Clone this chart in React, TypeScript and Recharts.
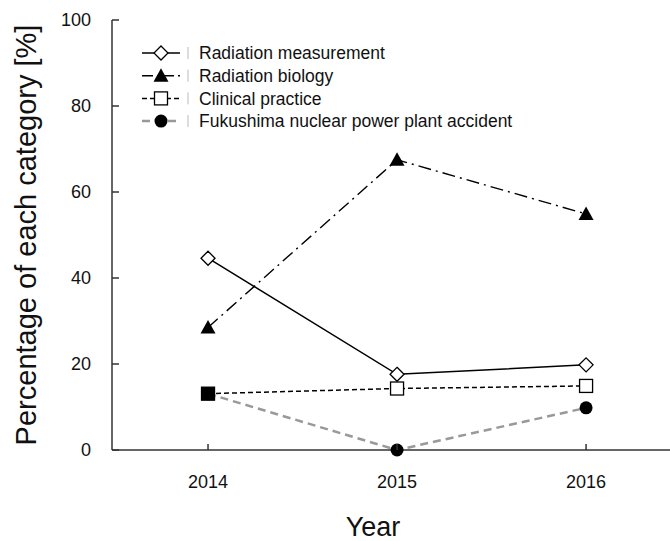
import React from "react";
import { LineChart, Line, XAxis, YAxis, Legend } from "recharts";

const years = [2014, 2015, 2016];
const radiationMeasurement = [44.6, 17.6, 19.8];
const radiationBiology = [28.5, 67.5, 54.9];
const clinicalPractice = [13.1, 14.3, 14.9];
const fukushimaAccident = [13.1, 0, 9.8];
const yTicks = [0, 20, 40, 60, 80, 100];

const data = years.map((year, i) => ({
  year,
  measurement: radiationMeasurement[i],
  biology: radiationBiology[i],
  clinical: clinicalPractice[i],
  fukushima: fukushimaAccident[i],
}));

const FONT = '"Liberation Sans", Arial, sans-serif';
const AXIS = "#333";

type Marker = "diamond" | "triangle" | "square" | "circle";

const drawMarker = (m: Marker, cx: number, cy: number, key?: any, filled?: boolean) => {
  if (m === "diamond")
    return (
      <polygon key={key} points={`${cx},${cy - 7} ${cx + 7},${cy} ${cx},${cy + 7} ${cx - 7},${cy}`} fill="#fff" stroke="#000" strokeWidth={1.3} />
    );
  if (m === "triangle")
    return <polygon key={key} points={`${cx},${cy - 7.5} ${cx + 7.5},${cy + 6} ${cx - 7.5},${cy + 6}`} fill="#000" />;
  if (m === "square")
    return <rect key={key} x={cx - 6.5} y={cy - 6.5} width={13} height={13} fill={filled ? "#000" : "#fff"} stroke="#000" strokeWidth={1.3} />;
  return <circle key={key} cx={cx} cy={cy} r={6.5} fill="#000" />;
};

const series = [
  { key: "fukushima", name: "Fukushima nuclear power plant accident", color: "#999", width: 2.5, dash: "8 5", marker: "circle" as Marker },
  { key: "clinical", name: "Clinical practice", color: "#000", width: 1.5, dash: "5 3", marker: "square" as Marker },
  { key: "biology", name: "Radiation biology", color: "#000", width: 1.4, dash: "13 5 2 5", marker: "triangle" as Marker },
  { key: "measurement", name: "Radiation measurement", color: "#000", width: 1.5, dash: undefined, marker: "diamond" as Marker },
];

const legendOrder = ["measurement", "biology", "clinical", "fukushima"];

const YTick = (props: any) => {
  const { y, payload } = props;
  return (
    <g>
      <line x1={112} x2={119} y1={y} y2={y} stroke={AXIS} strokeWidth={1.5} />
      <text x={91} y={y} dy="0.35em" textAnchor="end" fontSize={18} fontFamily={FONT} fill="#111">
        {payload.value}
      </text>
    </g>
  );
};

const XTick = (props: any) => {
  const { x, payload } = props;
  return (
    <g>
      <line x1={x} x2={x} y1={450} y2={444} stroke={AXIS} strokeWidth={1.5} />
      <text x={x} y={482} dy="0.35em" textAnchor="middle" fontSize={18} fontFamily={FONT} fill="#111">
        {payload.value}
      </text>
    </g>
  );
};

const LegendContent = () => (
  <svg width={420} height={100}>
    {legendOrder.map((k, i) => {
      const s = series.find((x) => x.key === k)!;
      const cy = 15 + i * 22.7;
      return (
        <g key={k}>
          <line x1={4} x2={42} y1={cy} y2={cy} stroke={s.color} strokeWidth={s.width} strokeDasharray={k === "biology" ? "11 4 2 4" : s.dash} />
          {drawMarker(s.marker, 23, cy)}
          <line x1={50} x2={50} y1={cy - 6} y2={cy + 6} stroke="#bbb" strokeWidth={1} />
          <text x={61} y={cy} dy="0.36em" fontSize={17.5} fontFamily={FONT} fill="#111">
            {s.name}
          </text>
        </g>
      );
    })}
  </svg>
);

export default function App() {
  return (
    <div style={{ position: "absolute", left: 0, top: 0, width: 670, height: 541, background: "#fff", overflow: "hidden" }}>
      <LineChart width={670} height={541} data={data} margin={{ top: 20, right: 0, left: 0, bottom: 0 }}>
        <XAxis
          dataKey="year"
          type="number"
          domain={[2013.492, 2016.444]}
          ticks={years}
          allowDataOverflow
          height={91}
          stroke={AXIS}
          strokeWidth={1.5}
          tickLine={false}
          tick={<XTick />}
        />
        <YAxis
          type="number"
          domain={[0, 100]}
          ticks={yTicks}
          width={112}
          stroke={AXIS}
          strokeWidth={1.5}
          tickLine={false}
          tick={<YTick />}
        />
        <Legend
          layout="vertical"
          align="center"
          verticalAlign="middle"
          content={<LegendContent />}
          wrapperStyle={{ position: "absolute", top: 38, left: 138, width: 420, height: 100 }}
        />
        {series.map((s) => (
          <Line
            key={s.key}
            dataKey={s.key}
            name={s.name}
            type="linear"
            stroke={s.color}
            strokeWidth={s.width}
            strokeDasharray={s.dash}
            isAnimationActive={false}
            dot={(p: any) =>
              drawMarker(
                s.marker,
                p.cx,
                p.cy,
                `${s.key}-${p.index}`,
                s.key === "clinical" && p.payload && p.payload.clinical === p.payload.fukushima
              )
            }
            activeDot={false}
          />
        ))}
      </LineChart>
      <svg width={670} height={541} style={{ position: "absolute", left: 0, top: 0, pointerEvents: "none" }}>
        <text x={26} y={235} transform="rotate(-90 26 235)" textAnchor="middle" dy="0.36em" fontSize={29} fontFamily={FONT} fill="#111">
          Percentage of each category [%]
        </text>
        <text x={373} y={526} textAnchor="middle" dy="0.36em" fontSize={27} fontFamily={FONT} fill="#111">
          Year
        </text>
      </svg>
    </div>
  );
}
